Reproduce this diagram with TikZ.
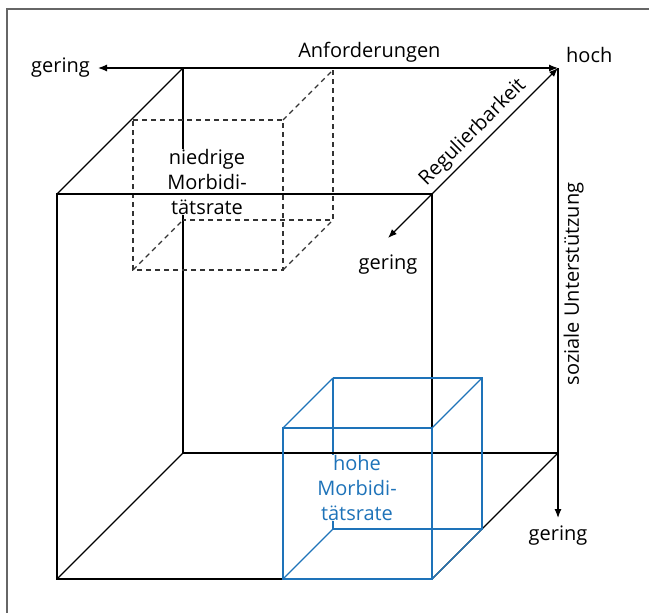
\documentclass[tikz,border=0pt]{standalone}
\usepackage{fontspec}
\setmainfont{Open Sans}
\usetikzlibrary{arrows.meta, positioning}
\definecolor{morbblue}{RGB}{30,115,185}

\begin{document}
\begin{tikzpicture}[
    x=1pt, y=-1pt,
    txt/.style={font=\fontsize{20}{25}\selectfont, inner sep=2pt, align=center},
    boxtxt/.style={txt, fill=white, inner sep=0pt},
    cubeline/.style={line width=1.2pt},
    dashline/.style={line width=1.1pt, dash pattern=on 5pt off 4pt, black!80},
    blueline/.style={line width=1.2pt, morbblue},
    axis/.style={line width=1.2pt, >={Latex[length=9pt,width=7pt]}},
    frame/.style={line width=1.3pt, black!60}
]
\useasboundingbox (0,0) rectangle (649,613);

% Rahmen
\draw[frame] (7,613) -- (7,9) -- (649,9);

% Ecken des grossen Wuerfels
\coordinate (b1) at (183,68);
\coordinate (b2) at (558,68);
\coordinate (b3) at (558,453);
\coordinate (b4) at (183,453);
\coordinate (f1) at (57,194);
\coordinate (f2) at (432,194);
\coordinate (f3) at (432,579);
\coordinate (f4) at (57,579);

% Achsenenden
\coordinate (hi) at (b2);
\coordinate (lowA) at (98,68);
\coordinate (lowR) at (388,238);
\coordinate (lowS) at (558,518);

% hintere Kante und Beschriftung niedrige Morbiditaet
\draw[cubeline] (b1) -- (b4);
\node[boxtxt] (niedrig) at (207,182) {niedrige\\Morbidi-\\tätsrate};

% gestrichelter Wuerfel
\coordinate (d1) at (183,70);
\coordinate (d2) at (333,70);
\coordinate (d3) at (333,220);
\coordinate (d4) at (183,220);
\coordinate (e1) at (133,120);
\coordinate (e2) at (283,120);
\coordinate (e3) at (283,270);
\coordinate (e4) at (133,270);
\draw[dashline] (e1) -- (e2) -- (e3) -- (e4) -- cycle;
\draw[dashline] (d2) -- (d3) -- (d4);
\draw[dashline] (e2) -- (d2);
\draw[dashline] (e3) -- (d3);
\draw[dashline] (e4) -- (d4);

% blauer Wuerfel, hintere Kante und Beschriftung
\coordinate (h1) at (333,378);
\coordinate (h2) at (482,378);
\coordinate (h3) at (482,529);
\coordinate (h4) at (333,529);
\coordinate (g1) at (283,428);
\coordinate (g2) at (432,428);
\coordinate (g3) at (f3);
\coordinate (g4) at (283,579);
\draw[blueline] (h1) -- (h4);
\node[boxtxt, text=morbblue] (hoch_morb) at (357,488) {hohe\\Morbidi-\\tätsrate};

% grosser Wuerfel
\draw[cubeline] (f1) -- (f2) -- (f3) -- (f4) -- cycle;
\draw[cubeline] (b4) -- (b3);
\draw[cubeline] (f1) -- (b1);
\draw[cubeline] (f4) -- (b4);
\draw[cubeline] (f3) -- (b3);

% Achsen
\draw[axis, <->] (lowA) -- node[txt, pos=0.59, above=3pt] (anf) {Anforderungen} (hi);
\draw[axis, <->] (lowR) -- node[txt, pos=0.56, sloped, above=2pt] (reg) {Regulierbarkeit} (hi);
\draw[axis, <-] (lowS) -- node[txt, pos=0.52, sloped, below=3pt] (soz) {soziale Unterstützung} (hi);

% blauer Wuerfel
\draw[blueline] (g1) -- (g2) -- (g3) -- (g4) -- cycle;
\draw[blueline] (h1) -- (h2) -- (h3) -- (h4);
\draw[blueline] (g1) -- (h1);
\draw[blueline] (g2) -- (h2);
\draw[blueline] (g3) -- (h3);
\draw[blueline] (g4) -- (h4);

% Achsenbeschriftung
\node[txt, left=6pt of lowA] (geringA) {gering};
\node[txt, below=15pt of lowR] (geringR) {gering};
\node[txt, below=6pt of lowS] (geringS) {gering};
\node[txt, above right=3pt and 6pt of hi] (hochL) {hoch};

\end{tikzpicture}
\end{document}
